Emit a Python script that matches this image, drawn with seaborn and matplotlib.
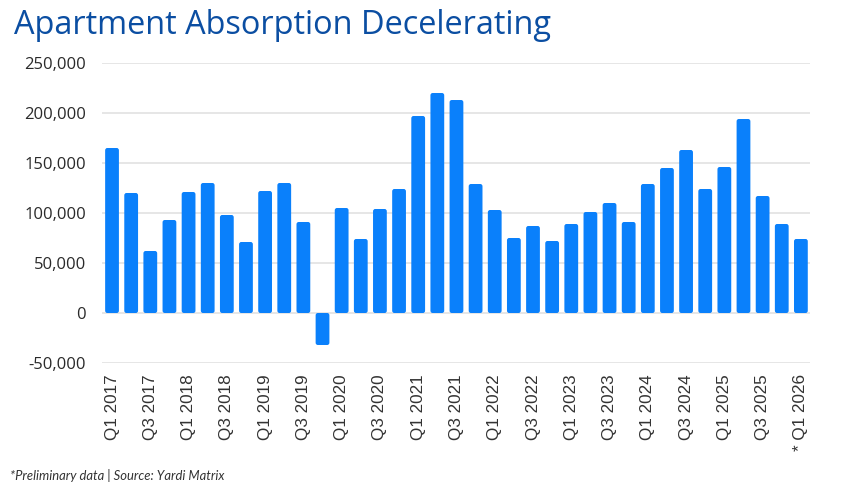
import matplotlib
matplotlib.use("Agg")
import matplotlib.pyplot as plt
from matplotlib.patches import FancyBboxPatch
from matplotlib.ticker import FuncFormatter
import seaborn as sns
import pandas as pd

quarters = [f"Q{q} {y}" for y in range(2017, 2026) for q in (1, 2, 3, 4)] + ["Q1 2026"]
absorption = [165000, 120000, 62000, 93000, 121000, 130000, 98000, 71000,
              122000, 130000, 91000, -32000, 105000, 74000, 104000, 124000,
              197000, 220000, 213000, 129000, 103000, 75000, 87000, 72000,
              89000, 101000, 110000, 91000, 129000, 145000, 163000, 124000,
              146000, 194000, 117000, 89000, 74000]
tick_labels = [q for i, q in enumerate(quarters) if i % 2 == 0]
tick_labels[-1] = "* " + tick_labels[-1]
title = "Apartment Absorption Decelerating"
footnote = "*Preliminary data | Source: Yardi Matrix"

df = pd.DataFrame({"quarter": quarters, "absorption": absorption})

sns.set_theme(style="white")
fig = plt.figure(figsize=(8.56, 4.9), dpi=100)
ax = fig.add_axes([0.1197, 0.2592, 0.8271, 0.6122])

bar_color = "#0a80fb"
sns.barplot(data=df, x="quarter", y="absorption", color=bar_color,
            saturation=1, width=0.72, ax=ax, zorder=2)

# rounded corners
rad_x = 0.11
aspect = 2400 / rad_x
for p in list(ax.patches):
    x, y = p.get_x(), p.get_y()
    w, h = p.get_width(), p.get_height()
    y0 = min(y, y + h)
    hh = abs(h)
    fp = FancyBboxPatch((x, y0), w, hh,
                        boxstyle=f"round,pad=0,rounding_size={rad_x}",
                        mutation_aspect=aspect,
                        facecolor=bar_color, edgecolor="none", zorder=2)
    p.remove()
    ax.add_patch(fp)

ax.set_xlim(-0.5, len(quarters) - 0.5)
ax.set_ylim(-50000, 250000)
ax.set_yticks(range(-50000, 250001, 50000))
ax.yaxis.set_major_formatter(FuncFormatter(lambda v, _: f"{int(v):,}"))
ax.grid(axis="y", color="#e2e2e2", linewidth=1.2, zorder=0)
ax.set_axisbelow(True)
for s in ax.spines.values():
    s.set_visible(False)
ax.set_xlabel("")
ax.set_ylabel("")

ax.set_xticks(range(0, len(quarters), 2))
ax.set_xticklabels(tick_labels, rotation=90, fontsize=12.3,
                   family="Liberation Sans", color="#333333")
ax.tick_params(axis="x", length=0, pad=8)
ax.tick_params(axis="y", length=0, pad=12)
for lab in ax.get_yticklabels():
    lab.set_fontsize(12)
    lab.set_family("Open Sans")
    lab.set_color("#2a2a2a")

fig.text(0.0164, 1 - 34 / 490, title, fontsize=23.4, family="Open Sans",
         color="#0b4ea2", ha="left", va="baseline")
fig.text(0.0117, 1 - 475 / 490, footnote, fontsize=9.4, family="Lato",
         style="italic", color="#333333", ha="left", va="center")

fig.savefig("out.png", dpi=100)
